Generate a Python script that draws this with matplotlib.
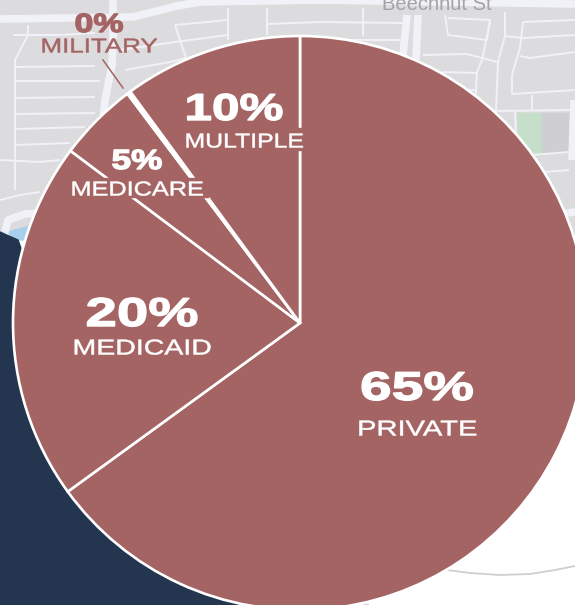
#!/usr/bin/env python3
"""Payer mix pie chart laid over a faded street map."""

import matplotlib

matplotlib.use("Agg")

import matplotlib.patheffects as pe
import matplotlib.pyplot as plt
from matplotlib.patches import Polygon, Rectangle
from matplotlib.transforms import Affine2D

W, H = 575, 605

# clockwise from 12 o'clock; labels are rounded
categories = ["PRIVATE", "MEDICAID", "MEDICARE", "MILITARY", "MULTIPLE"]
shares = [65.2, 20.3, 4.5, 0.2, 10.1]
share_labels = ["65%", "20%", "5%", "0%", "10%"]

PIE = "#a56464"
NAVY = "#24364f"
MAP = "#dcdcde"
ROAD = "#f1f1f8"

# x, y of number, y of name, number width, name width, number size, name size
label_spots = {
    "PRIVATE": (417, 389, 430, 114, 120, 29, 15.5),
    "MEDICAID": (142, 315, 349, 113, 139, 29, 15.5),
    "MEDICARE": (137, 162, 190, 51, 133, 20, 14.5),
    "MILITARY": (99, 25, 47, 49, 117, 19, 14.5),
    "MULTIPLE": (234, 110, 142, 99, 119, 27, 14.5),
}

thick_roads = [
    [(0, 19), (67, 18), (133, 17), (177, 6), (200, 2), (320, 0), (575, 4)],
    [(113, 0), (113, 40), (112, 65), (105, 100), (102, 130)],
    [(5, 232), (8, 220), (25, 214), (40, 213)],
    [(407, 15), (403, 55)],
    [(418, 15), (416, 60)],
    [(575, 212), (560, 214)],
    [(574, 100), (572, 160)],
]

thin_roads = [
    [(28, 25), (28, 35), (15, 60), (15, 190)],
    [(13, 35), (60, 35), (95, 33)],
    [(15, 67), (95, 66)], [(15, 81), (100, 81)], [(15, 98), (95, 97)],
    [(15, 114), (95, 113)], [(15, 129), (85, 127)], [(15, 145), (70, 143)],
    [(0, 160), (40, 162), (60, 160)], [(0, 200), (20, 195), (40, 192)],
    [(125, 70), (170, 62), (228, 48), (300, 36)],
    [(120, 50), (175, 42), (228, 35)],
    [(175, 25), (186, 58)], [(175, 25), (228, 20)],
    [(228, 8), (228, 40)], [(267, 8), (267, 35)],
    [(267, 24), (320, 22), (405, 23)], [(320, 40), (405, 40)],
    [(363, 8), (363, 36)],
    [(445, 15), (448, 35), (487, 40), (490, 20), (448, 18)],
    [(423, 55), (467, 54), (497, 62)],
    [(490, 22), (482, 60), (477, 72), (475, 110)],
    [(443, 72), (477, 73)], [(475, 90), (445, 90)],
    [(505, 12), (505, 36), (498, 62), (496, 110)],
    [(505, 36), (523, 38), (575, 35)],
    [(523, 22), (520, 48), (512, 75), (512, 94), (575, 90)],
    [(523, 22), (575, 20)], [(520, 56), (530, 58), (575, 52)],
    [(495, 111), (575, 110)], [(532, 95), (532, 110)],
    [(515, 112), (517, 155)], [(533, 155), (569, 152)], [(545, 172), (569, 170)],
]


class StretchX(pe.AbstractPathEffect):
    """Widen and thicken the glyphs around cx, the source face is an extended sans."""

    def __init__(self, cx, factor, stroke):
        super().__init__()
        self.cx = cx
        self.factor = factor
        self.stroke = stroke

    def draw_path(self, renderer, gc, tpath, affine, rgbFace=None):
        stretch = Affine2D().translate(-self.cx, 0).scale(self.factor, 1).translate(self.cx, 0)
        gc0 = renderer.new_gc()
        gc0.copy_properties(gc)
        gc0.set_foreground(rgbFace)
        gc0.set_linewidth(self.stroke)
        renderer.draw_path(gc0, tpath, affine + stretch, rgbFace)
        gc0.restore()


def flip(points):
    return [(x, H - y) for x, y in points]


def draw_map(ax):
    ax.add_patch(Rectangle((0, 0), W, H, color="white", zorder=0))
    ax.add_patch(Polygon(flip([(0, 0), (W, 0), (W, 240), (575, 250), (300, 250), (60, 232), (0, 232)]),
                         color=MAP, zorder=1))
    ax.add_patch(Rectangle((518, H - 155), 24, 42, color="#c5dfca", zorder=1))
    ax.add_patch(Rectangle((542, H - 152), 30, 39, color="#cfcfd1", zorder=1))
    ax.add_patch(Polygon(flip([(8, 232), (30, 226), (32, 240), (14, 240)]), color="#a8d0ee", zorder=1))
    ax.add_patch(Polygon(flip([(0, 232), (18, 240), (40, 300), (300, 605), (0, 605)]), color=NAVY, zorder=2))

    for road in thick_roads:
        xs, ys = zip(*flip(road))
        ax.plot(xs, ys, color=ROAD, lw=5.5, solid_capstyle="butt", zorder=1.5)
    for road in thin_roads:
        xs, ys = zip(*flip(road))
        ax.plot(xs, ys, color=ROAD, lw=1.4, solid_capstyle="butt", zorder=1.5)

    # curved road in the white corner
    arc_x = [440, 470, 500, 530, 555, 575]
    arc_y = [569, 573, 575, 574, 570, 566]
    ax.plot(arc_x, [H - y for y in arc_y], color="#cfcfcf", lw=1.3, zorder=1.5)
    ax.plot([358, 368], [H - 601, H - 605], color="#cfcfcf", lw=1.3, zorder=1.5)

    ax.text(437, H - 4, "Beechnut St", color="#a3a3a3", fontsize=14.5, ha="center", va="center",
            family="Liberation Sans", zorder=1.6)


def put_label(ax, fig, cx, cy, text, width, size, color, weight, stroke):
    label = ax.text(cx, H - cy, text, color=color, fontsize=size, fontweight=weight,
                    family="Liberation Sans", ha="center", va="center", zorder=6)
    measured = label.get_window_extent(fig.canvas.get_renderer()).width
    label.set_path_effects([StretchX(cx, width / measured, stroke)])


fig = plt.figure(figsize=(W / 100, H / 100), dpi=100)
ax = fig.add_axes([0, 0, 1, 1])

draw_map(ax)

wedges, _ = ax.pie(
    shares,
    center=(300, H - 323),
    radius=287,
    startangle=90,
    counterclock=False,
    colors=[PIE, PIE, PIE, "white", PIE],
    wedgeprops={"edgecolor": "white", "linewidth": 1.9, "zorder": 3},
)
ax.set_xlim(0, W)
ax.set_ylim(0, H)
ax.axis("off")

# the number labels knock out the slice lines behind them
ax.add_patch(Rectangle((70, H - 197), 138, 19, color=PIE, zorder=4))
ax.add_patch(Rectangle((290, H - 150), 20, 22, color=PIE, zorder=4))

for name, share_label in zip(categories, share_labels):
    cx, num_y, name_y, num_w, name_w, num_size, name_size = label_spots[name]
    color = PIE if name == "MILITARY" else "white"
    put_label(ax, fig, cx, num_y, share_label, num_w, num_size, color, "bold", 1.0)
    put_label(ax, fig, cx if name != "MULTIPLE" else 244, name_y, name, name_w, name_size, color, "normal", 0.35)

ax.plot([103, 123], [H - 60, H - 88], color=PIE, lw=1.1, zorder=5)

fig.savefig("out.png", dpi=100)
